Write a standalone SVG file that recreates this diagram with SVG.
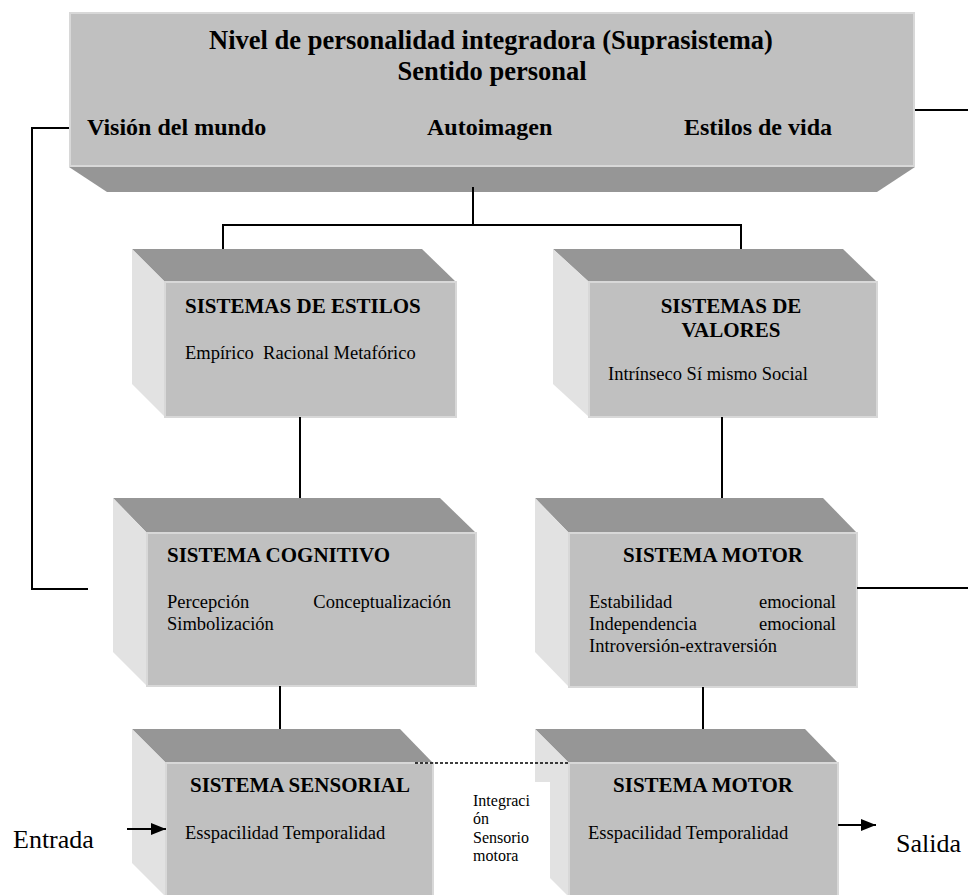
<svg xmlns="http://www.w3.org/2000/svg" width="968" height="895" viewBox="0 0 968 895">
<defs>
<style>
.front{fill:#c0c0c0;stroke:#d8d8d8;stroke-width:2}
.bevel{fill:#969696}
.side{fill:#e2e2e2}
.ln{stroke:#000;stroke-width:2;fill:none}
.t{font-family:"Liberation Serif","Times New Roman",serif;fill:#000}
.h1{font-size:26.5px;font-weight:bold}
.h2{font-size:24px;font-weight:bold}
.h3{font-size:21px;font-weight:bold}
.body{font-size:18.5px}
.small{font-size:16px}
.io{font-size:26px}
.mid{text-anchor:middle}
</style>
<marker id="arr" markerUnits="userSpaceOnUse" markerWidth="16" markerHeight="14" refX="15" refY="7" orient="auto">
<path d="M0,1 L15,7 L0,13 z" fill="#000"/>
</marker>
</defs>
<rect width="968" height="895" fill="#fff"/>

<g id="suprasistema">
<polygon class="bevel" points="69,167 915,167 877,192 107,192"/>
<rect class="front" x="70" y="13" width="844" height="153"/>
<text class="t h1 mid" x="491" y="49">Nivel de personalidad integradora (Suprasistema)</text>
<text class="t h1 mid" x="492" y="80">Sentido personal</text>
<text class="t h2" x="87" y="135">Visión del mundo</text>
<text class="t h2" x="427" y="135">Autoimagen</text>
<text class="t h2" x="684" y="135">Estilos de vida</text>
</g>

<g id="estilos">
<polygon class="bevel" points="132,249 422,249 456,282 165,282"/>
<polygon class="side" points="132,249 165,282 165,417 132,384"/>
<rect class="front" x="165" y="282" width="291" height="135"/>
<text class="t h3" x="185" y="313">SISTEMAS DE ESTILOS</text>
<text class="t body" x="185" y="359" xml:space="preserve">Empírico  Racional Metafórico</text>
</g>

<g id="valores">
<polygon class="bevel" points="553,249 843,249 877,282 589,282"/>
<polygon class="side" points="553,249 589,282 589,417 553,384"/>
<rect class="front" x="589" y="282" width="288" height="135"/>
<text class="t h3 mid" x="731" y="313">SISTEMAS DE</text>
<text class="t h3 mid" x="731" y="337">VALORES</text>
<text class="t body" x="608" y="380">Intrínseco Sí mismo Social</text>
</g>

<g id="cognitivo">
<polygon class="bevel" points="113,498 440,498 476,533 147,533"/>
<polygon class="side" points="113,498 147,533 147,686 113,652"/>
<rect class="front" x="147" y="533" width="329" height="153"/>
<text class="t h3" x="167" y="562">SISTEMA COGNITIVO</text>
<text class="t body" y="608"><tspan x="167">Percepción</tspan><tspan x="451" text-anchor="end">Conceptualización</tspan></text>
<text class="t body" x="167" y="630">Simbolización</text>
</g>

<g id="motor-superior">
<polygon class="bevel" points="535,498 823,498 857,533 569,533"/>
<polygon class="side" points="535,498 569,533 569,687 535,652"/>
<rect class="front" x="569" y="533" width="288" height="154"/>
<text class="t h3 mid" x="713" y="562">SISTEMA MOTOR</text>
<text class="t body" y="608"><tspan x="589">Estabilidad</tspan><tspan x="836" text-anchor="end">emocional</tspan></text>
<text class="t body" y="630"><tspan x="589">Independencia</tspan><tspan x="836" text-anchor="end">emocional</tspan></text>
<text class="t body" x="589" y="652">Introversión-extraversión</text>
</g>

<g id="sensorial">
<polygon class="bevel" points="132,729 400,729 433,763 166,763"/>
<polygon class="side" points="132,729 166,763 166,897 132,863"/>
<rect class="front" x="166" y="763" width="267" height="140"/>
<text class="t h3 mid" x="300" y="792">SISTEMA SENSORIAL</text>
<text class="t body" x="185" y="839">Esspacilidad Temporalidad</text>
</g>

<g id="motor-inferior">
<polygon class="bevel" points="535,729 805,729 838,763 569,763"/>
<polygon class="side" points="535,729 569,763 569,897 535,863"/>
<rect class="front" x="569" y="763" width="269" height="140"/>
<text class="t h3 mid" x="703" y="792">SISTEMA MOTOR</text>
<text class="t body" x="588" y="839">Esspacilidad Temporalidad</text>
</g>

<g id="integracion">
<rect x="436" y="782" width="114" height="115" fill="#fff"/>
<text class="t small" x="473" y="806">Integraci</text>
<text class="t small" x="473" y="824">ón</text>
<text class="t small" x="473" y="843">Sensorio</text>
<text class="t small" x="473" y="861">motora</text>
</g>

<g id="entrada">
<text class="t io" x="13" y="848">Entrada</text>
</g>
<g id="salida">
<text class="t io" x="896" y="852">Salida</text>
</g>

<g id="connectors">
<path class="ln" d="M473,187 V225 M223,225 H741 M223,224 V249 M741,224 V249"/>
<path class="ln" d="M300,417 V498 M722,417 V498"/>
<path class="ln" d="M280,686 V729 M703,687 V729"/>
<path class="ln" d="M69,128 H32 V589 H88"/>
<path class="ln" d="M915,110 H968 M857,588 H968"/>
<path d="M415,763 H568" stroke="#000" stroke-width="1.5" stroke-dasharray="3,2" fill="none"/>
<path class="ln" d="M127,829 H166" marker-end="url(#arr)"/>
<path class="ln" d="M838,825 H876" marker-end="url(#arr)"/>
</g>
</svg>
